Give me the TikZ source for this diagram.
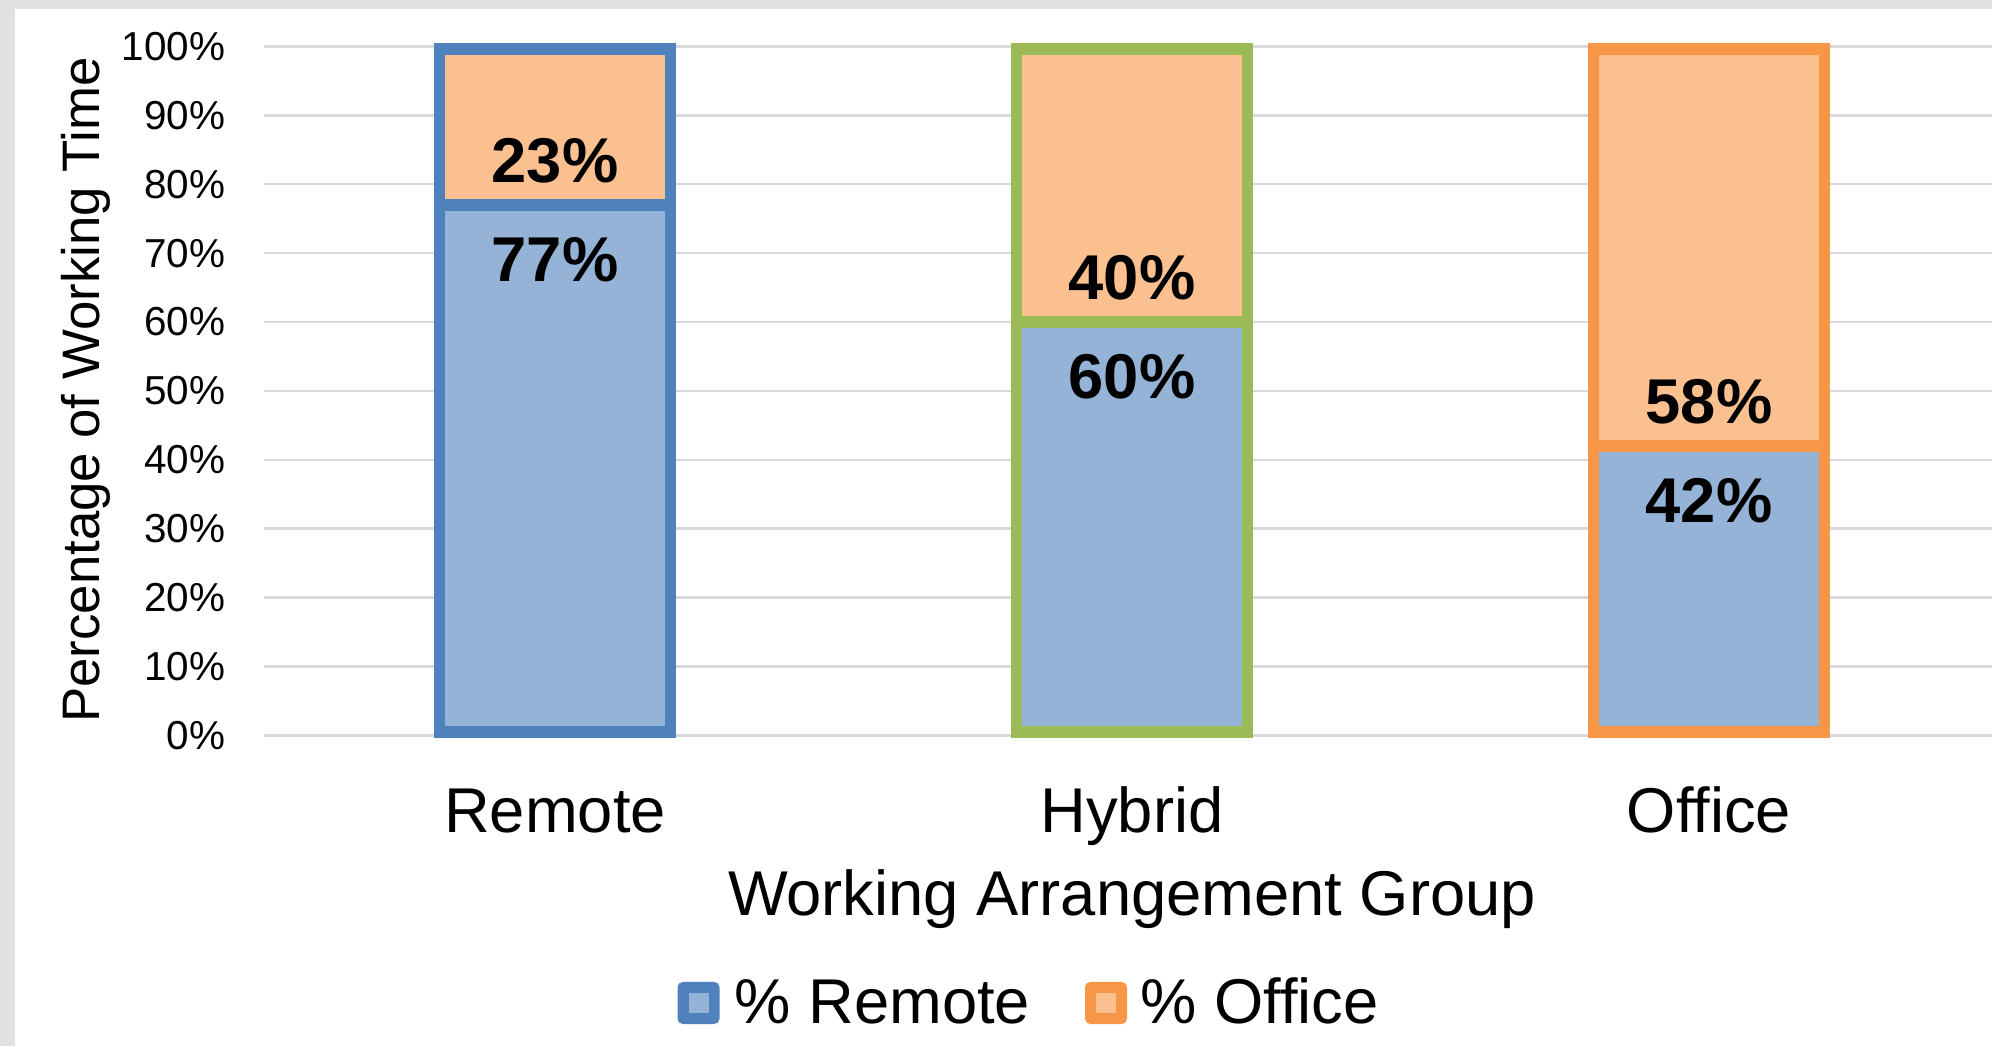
\documentclass[tikz,border=0pt]{standalone}
\usepackage{fontspec}
\setmainfont{Liberation Sans}
\usetikzlibrary{positioning}

\definecolor{remoteline}{HTML}{4F81BD}
\definecolor{remotefill}{HTML}{95B3D7}
\definecolor{officeline}{HTML}{F79646}
\definecolor{officefill}{HTML}{FAC090}
\definecolor{hybridline}{HTML}{9BBB59}
\definecolor{gridgray}{HTML}{D9D9D9}
\definecolor{framegray}{HTML}{E1E1E1}

\tikzset{
  ticklbl/.style={font=\fontsize{11.5}{13}\selectfont, anchor=east, inner sep=0pt},
  catlbl/.style={font=\fontsize{18}{21}\selectfont, anchor=base, inner sep=0pt},
  vallbl/.style={font=\fontsize{18}{21}\selectfont\bfseries, inner sep=0pt},
  seg/.style={line width=3.3pt},
  legbox/.style={minimum size=0.42cm, inner sep=0pt, rounded corners=1.5pt},
  legcore/.style={minimum size=0.2cm, inner sep=0pt},
}

\begin{document}
\begin{tikzpicture}[x=0.01cm,y=0.01cm]
    \useasboundingbox (0,0) rectangle (1992,1046);
    \fill[framegray] (0,0) rectangle (1992,1046);
    \fill[white] (15,0) rectangle (1992,1037);

    \begin{scope}[shift={(0cm,3.105cm)}, y=0.06885cm]
        \foreach \p in {0,10,...,100}{
            \draw[gridgray, line width=0.7pt] (264,\p) -- (1992,\p);
            \node[ticklbl] (tick\p) at (226,\p) {\p\%};
        }
        % Remote
        \draw[seg, remoteline, fill=remotefill] (439.5,0.5) rectangle (670.5,77);
        \draw[seg, remoteline, fill=officefill] (439.5,77) rectangle (670.5,99.6);
        % Hybrid
        \draw[seg, hybridline, fill=remotefill] (1016.5,0.5) rectangle (1247.5,60);
        \draw[seg, hybridline, fill=officefill] (1016.5,60) rectangle (1247.5,99.6);
        % Office
        \draw[seg, officeline, fill=remotefill] (1593.5,0.5) rectangle (1824.5,42);
        \draw[seg, officeline, fill=officefill] (1593.5,42) rectangle (1824.5,99.6);

        \coordinate (rsplit) at (555,77);
        \coordinate (hsplit) at (1132,60);
        \coordinate (osplit) at (1709,42);
        \node[vallbl, above=0.21cm of rsplit] (rtop) {23\%};
        \node[vallbl, below=0.32cm of rsplit] (rbot) {77\%};
        \node[vallbl, above=0.21cm of hsplit] (htop) {40\%};
        \node[vallbl, below=0.32cm of hsplit] (hbot) {60\%};
        \node[vallbl, above=0.21cm of osplit] (otop) {58\%};
        \node[vallbl, below=0.32cm of osplit] (obot) {42\%};
    \end{scope}

    \node[catlbl] (catremote) at (555,213) {Remote};
    \node[catlbl] (cathybrid) at (1132,213) {Hybrid};
    \node[catlbl] (catoffice) at (1709,213) {Office};
    \node[catlbl] (xtitle) at (1132,130) {Working Arrangement Group};
    \node[rotate=90, anchor=base, inner sep=0pt, font=\fontsize{15}{18}\selectfont] (ytitle) at (99,656) {Percentage of Working Time};

    \node[legbox, fill=remoteline] (keyremote) at (698.5,43) {};
    \node[legcore, fill=remotefill] at (keyremote) {};
    \node[catlbl, anchor=base west] (legremote) at (734,22) {\% Remote};
    \node[legbox, fill=officeline] (keyoffice) at (1106,43) {};
    \node[legcore, fill=officefill] at (keyoffice) {};
    \node[catlbl, anchor=base west] (legoffice) at (1140,22) {\% Office};
\end{tikzpicture}
\end{document}
